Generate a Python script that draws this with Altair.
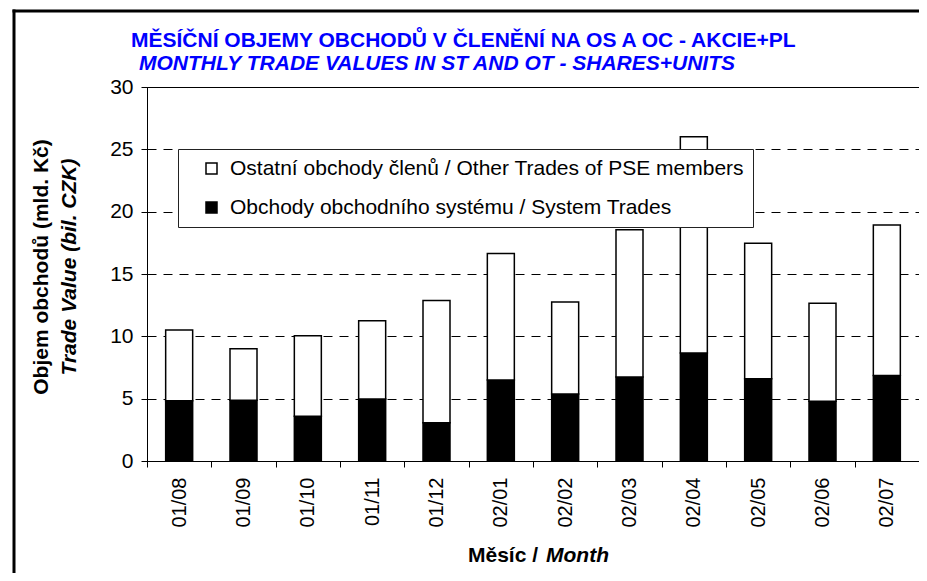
import altair as alt
import pandas as pd

months = ["01/08", "01/09", "01/10", "01/11", "01/12", "02/01",
          "02/02", "02/03", "02/04", "02/05", "02/06", "02/07"]
system_trades = [4.84, 4.87, 3.59, 4.97, 3.06, 6.50, 5.37, 6.73, 8.67, 6.60, 4.80, 6.85]
other_trades = [5.66, 4.13, 6.46, 6.29, 9.81, 10.14, 7.39, 11.81, 17.33, 10.87, 7.85, 12.09]

series_other = "Ostatní obchody členů / Other Trades of PSE members"
series_system = "Obchody obchodního systému / System Trades"
series_names = [series_other, series_system]
series_colors = ["white", "black"]
y_ticks = [0, 5, 10, 15, 20, 25, 30]

title_line1 = "MĚSÍČNÍ OBJEMY OBCHODŮ V ČLENĚNÍ NA OS A OC - AKCIE+PL"
title_line2 = "MONTHLY TRADE VALUES IN ST AND OT - SHARES+UNITS"
ytitle_line1 = "Objem obchodů (mld. Kč)"
ytitle_line2 = "Trade Value (bil. CZK)"
xtitle_a = "Měsíc /"
xtitle_b = "Month"

rows = []
for m, s, o in zip(months, system_trades, other_trades):
    rows.append({"month": m, "series": series_system, "value": s, "ord": 0})
    rows.append({"month": m, "series": series_other, "value": o, "ord": 1})
df = pd.DataFrame(rows)

FONT = "Liberation Sans"
W, H = 772, 374

bars = alt.Chart(df).mark_bar(size=27, stroke="black", strokeWidth=1.5).encode(
    x=alt.X("month:N", sort=months,
            scale=alt.Scale(paddingInner=0, paddingOuter=0),
            axis=alt.Axis(title="", labelAngle=270, labelFontSize=20, labelFont=FONT,
                          labelColor="black", tickBand="extent", tickSize=6,
                          tickColor="black", domainColor="black", labelPadding=10,
                          grid=False)),
    y=alt.Y("value:Q", stack="zero",
            scale=alt.Scale(domain=[0, 30], nice=False),
            axis=alt.Axis(title="", values=y_ticks, labelFontSize=21, labelFont=FONT,
                          labelColor="black", tickSize=6, tickColor="black",
                          domainColor="black", labelPadding=8,
                          grid=True, gridColor="black", gridDash=[9, 7], gridWidth=1)),
    color=alt.Color("series:N",
                    scale=alt.Scale(domain=series_names, range=series_colors),
                    legend=alt.Legend(title=None, orient="none", legendX=31, legendY=62,
                                      fillColor="white", strokeColor="#222",
                                      padding=9, rowPadding=17, symbolOffset=14,
                                      labelOffset=8, symbolType="square",
                                      symbolSize=121, symbolStrokeColor="black",
                                      symbolStrokeWidth=1.5, labelFontSize=21,
                                      labelFont=FONT, labelColor="black",
                                      labelLimit=800)),
    order=alt.Order("ord:Q"),
)


def label(text, x, y, **kw):
    return alt.Chart(pd.DataFrame({"t": [text]})).mark_text(
        font=FONT, fontSize=21, **kw
    ).encode(x=alt.value(x), y=alt.value(y), text="t:N")


t1 = label(title_line1, -16, -40.3, fontWeight="bold", color="#0000ff",
           align="left", baseline="alphabetic")
t2 = label(title_line2, -8, -17, fontWeight="bold", fontStyle="italic",
           color="#0000ff", align="left", baseline="alphabetic")
yt1 = label(ytitle_line1, -105, 180, fontWeight="bold", angle=270,
            align="center", baseline="middle", color="black")
yt2 = label(ytitle_line2, -77, 180, fontWeight="bold", fontStyle="italic",
            angle=270, align="center", baseline="middle", color="black")
xt1 = label(xtitle_a, 391, 474.7, fontWeight="bold", align="right",
            baseline="alphabetic", color="black")
xt2 = label(xtitle_b, 399, 474.7, fontWeight="bold", fontStyle="italic",
            align="left", baseline="alphabetic", color="black")

frame_df = pd.DataFrame({"k": [0]})
frame_top = alt.Chart(frame_df).mark_rule(color="black", strokeWidth=3).encode(
    x=alt.value(-134.5), x2=alt.value(W + 20), y=alt.value(-76))
frame_left = alt.Chart(frame_df).mark_rule(color="black", strokeWidth=3).encode(
    x=alt.value(-133), y=alt.value(-77.5), y2=alt.value(H + 150))

chart = alt.layer(bars, t1, t2, yt1, yt2, xt1, xt2, frame_top, frame_left).properties(
    width=W, height=H,
    autosize=alt.AutoSizeParams(type="none"),
    padding={"left": 139, "top": 79, "right": 0, "bottom": 112},
    background="white",
).configure_view(stroke="black", strokeWidth=1)

chart.save("out.html", embed_options={"renderer": "svg", "actions": False})
